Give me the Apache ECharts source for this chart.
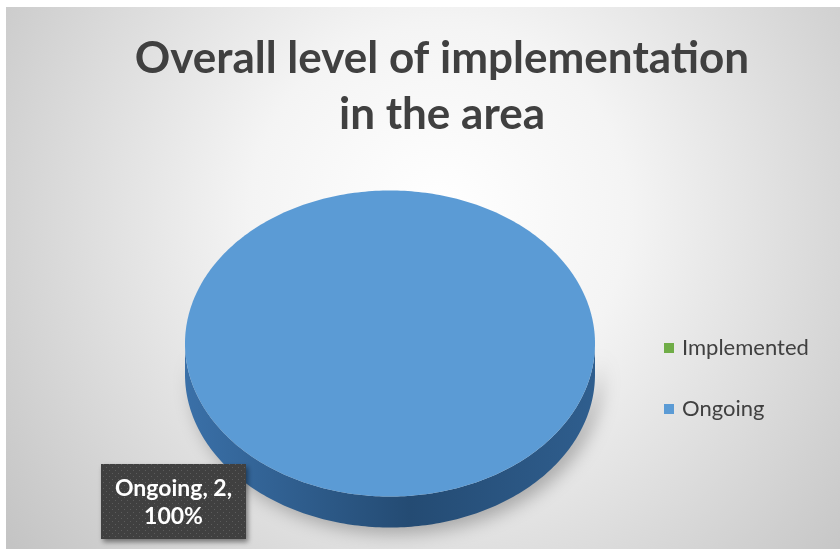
<!DOCTYPE html>
<html>
<head>
<meta charset="utf-8">
<script src="https://cdn.jsdelivr.net/npm/echarts@6/dist/echarts.min.js"></script>
<style>
  html, body { margin: 0; padding: 0; background: #ffffff; }
  #chart { position: absolute; left: 6px; top: 7px; width: 834px; height: 542px; }
</style>
</head>
<body>
<div id="chart"></div>
<script>
// Chart data
const chartTitle = 'Overall level of implementation\nin the area';
const categories = ['Implemented', 'Ongoing'];
const values = [0, 2];

// Slice styling (top face colour, side gradient stops)
const faceColors = ['#70ad47', '#5b9bd5'];
const sideColors = [['#5f9a3b', '#3b6125', '#4a7a2f'], ['#3a70a8', '#244b73', '#2f5e8e']];

const total = values.reduce((a, b) => a + b, 0);

// Pie geometry in chart pixels (tilted disc)
const PIE = { cx: 384, cy: 336.5, rx: 205, ry: 153, depth: 31 };

// Dotted pattern for the data label box
const dotCanvas = document.createElement('canvas');
dotCanvas.width = 6; dotCanvas.height = 6;
(function () {
  const c = dotCanvas.getContext('2d');
  c.fillStyle = '#404040';
  c.fillRect(0, 0, 6, 6);
  c.fillStyle = '#5c5c5c';
  c.fillRect(1, 1, 1, 1);
  c.fillRect(4, 4, 1, 1);
})();

function pt(t, dy) {
  return [PIE.cx + PIE.rx * Math.sin(t), PIE.cy - PIE.ry * Math.cos(t) + (dy || 0)];
}

function arcPoints(a0, a1, dy) {
  const n = Math.max(2, Math.ceil((a1 - a0) / (Math.PI / 180)));
  const pts = [];
  for (let i = 0; i <= n; i++) pts.push(pt(a0 + (a1 - a0) * i / n, dy));
  return pts;
}

function makeRender(idx) {
  return function (params, api) {
    const v = api.value(0);
    if (!v || !total) return null;
    let before = 0;
    for (let i = 0; i < idx; i++) before += values[i];
    const a0 = before / total * Math.PI * 2;
    const a1 = (before + v) / total * Math.PI * 2;
    const full = (a1 - a0) >= Math.PI * 2 - 1e-9;
    const children = [];

    // Visible front wall: angles between 3 o'clock and 9 o'clock
    const s0 = Math.max(a0, Math.PI / 2);
    const s1 = Math.min(a1, Math.PI * 1.5);
    if (s1 > s0) {
      const top = arcPoints(s0, s1, 0);
      const bottom = arcPoints(s0, s1, PIE.depth).reverse();
      const sc = sideColors[idx];
      children.push({
        type: 'polygon',
        shape: { points: top.concat(bottom) },
        style: {
          fill: new echarts.graphic.LinearGradient(0, 0, 1, 0, [
            { offset: 0, color: sc[0] },
            { offset: 0.55, color: sc[1] },
            { offset: 1, color: sc[2] }
          ]),
          shadowBlur: 18,
          shadowOffsetX: 6,
          shadowOffsetY: 6,
          shadowColor: 'rgba(0,0,0,0.28)'
        }
      });
    }

    // Top face
    const facePts = full ? arcPoints(0, Math.PI * 2, 0) : [[PIE.cx, PIE.cy]].concat(arcPoints(a0, a1, 0));
    children.push({
      type: 'polygon',
      shape: { points: facePts },
      style: { fill: faceColors[idx] }
    });

    // Data label: "name, value, percent"
    const pct = Math.round(v / total * 100);
    const bx = 95, by = 457, bw = 145, bh = 75;
    children.push({
      type: 'rect',
      shape: { x: bx, y: by, width: bw, height: bh },
      style: {
        fill: { image: dotCanvas, repeat: 'repeat' },
        shadowBlur: 5,
        shadowOffsetX: 2,
        shadowOffsetY: 3,
        shadowColor: 'rgba(0,0,0,0.45)'
      }
    });
    children.push({
      type: 'text',
      style: {
        x: bx + bw / 2,
        y: by + bh / 2 + 1,
        text: categories[idx] + ', ' + v + ',\n' + pct + '%',
        align: 'center',
        verticalAlign: 'middle',
        fill: '#ffffff',
        font: 'bold 23px Lato',
        lineHeight: 28
      }
    });

    return { type: 'group', children: children };
  };
}

const chart = echarts.init(document.getElementById('chart'), null, { renderer: 'canvas' });

chart.setOption({
  animation: false,
  backgroundColor: {
    type: 'radial', x: 0.52, y: 0.38, r: 1.0,
    colorStops: [
      { offset: 0, color: '#ffffff' },
      { offset: 0.35, color: '#f4f4f4' },
      { offset: 1, color: '#c4c4c4' }
    ]
  },
  title: {
    text: chartTitle,
    left: 431,
    textAlign: 'center',
    top: 19,
    textStyle: {
      fontFamily: 'Lato',
      fontWeight: 'bold',
      fontSize: 44,
      lineHeight: 56,
      color: '#404040'
    }
  },
  legend: {
    orient: 'vertical',
    left: 653,
    top: 325,
    itemGap: 39,
    itemWidth: 10,
    itemHeight: 10,
    data: categories.map(n => ({ name: n, icon: 'rect' })),
    textStyle: { fontFamily: 'Lato', fontSize: 22, color: '#404040', padding: [0, 0, 0, 3] },
    selectedMode: false
  },
  series: categories.map((name, i) => ({
    type: 'custom',
    name: name,
    coordinateSystem: 'none',
    itemStyle: { color: faceColors[i] },
    renderItem: makeRender(i),
    data: [[values[i]]]
  }))
});
</script>
</body>
</html>
